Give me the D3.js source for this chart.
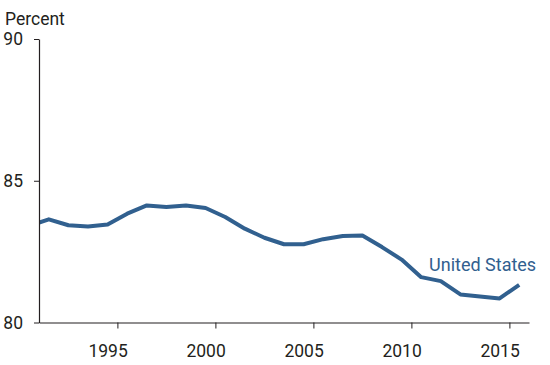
<!DOCTYPE html>
<html>
<head>
<meta charset="utf-8">
<script src="https://cdn.jsdelivr.net/npm/d3@7"></script>
<style>
  body { margin: 0; background: #fff; }
  text { font-family: Roboto, sans-serif; }
</style>
</head>
<body>
<div id="chart"></div>
<script>
// Data (annual, percent)
const years = [1991, 1992, 1993, 1994, 1995, 1996, 1997, 1998, 1999, 2000,
  2001, 2002, 2003, 2004, 2005, 2006, 2007, 2008, 2009, 2010,
  2011, 2012, 2013, 2014, 2015, 2016]
const usValues = [83.41, 83.64, 83.43, 83.39, 83.46, 83.84, 84.13, 84.07, 84.13, 84.04,
  83.72, 83.31, 82.99, 82.76, 82.76, 82.94, 83.05, 83.07, 82.66, 82.22,
  81.60, 81.46, 80.99, 80.92, 80.85, 81.33]
const xTickYears = [1995, 2000, 2005, 2010, 2015]
const yTicks = [80, 85, 90]
const seriesName = 'United States'

const margin = { top: 39, right: 21, bottom: 42.5, left: 39 }
const width = 550 - margin.left - margin.right
const height = 365 - margin.top - margin.bottom
const lineColor = '#31608f'
const textColor = '#231f20'
const fontSize = '17.5px'

const svg = d3.select('#chart')
  .append('svg')
  .attr('width', 550)
  .attr('height', 365)

const g = svg.append('g')
  .attr('transform', 'translate(' + margin.left + ',' + margin.top + ')')

const x = d3.scaleLinear()
  .domain([1991.5, 2016.5])
  .range([0, width])

const y = d3.scaleLinear()
  .domain([80, 90])
  .range([height, 0])

const half = (x(1992) - x(1991)) / 2

g.append('clipPath')
  .attr('id', 'plot-clip')
  .append('rect')
  .attr('x', 0)
  .attr('y', -10)
  .attr('width', width + 10)
  .attr('height', height + 20)

// the line
const data = years.map(function (d, i) { return { year: d, value: usValues[i] } })
g.append('path')
  .datum(data)
  .attr('clip-path', 'url(#plot-clip)')
  .attr('fill', 'none')
  .attr('stroke', lineColor)
  .attr('stroke-width', 4)
  .attr('stroke-linejoin', 'round')
  .attr('d', d3.line()
    .x(function (d) { return x(d.year) })
    .y(function (d) { return y(d.value) }))

// X axis: labels at the year, tick marks between years
const xAxis = g.append('g')
  .attr('transform', 'translate(0,' + height + ')')
  .call(d3.axisBottom(x).tickValues(xTickYears).tickFormat(d3.format('d'))
    .tickSize(6).tickSizeOuter(0).tickPadding(16))
xAxis.select('.domain').attr('stroke', textColor).attr('stroke-width', 1.2)
xAxis.selectAll('.tick line')
  .attr('stroke', textColor)
  .attr('transform', 'translate(' + half + ',0)')
xAxis.selectAll('.tick text')
  .attr('fill', textColor)
  .style('font-size', fontSize)

// Y axis
const yAxis = g.append('g')
  .call(d3.axisLeft(y).tickValues(yTicks).tickSize(5).tickSizeOuter(0).tickPadding(11))
yAxis.select('.domain').attr('stroke', textColor).attr('stroke-width', 1.2)
yAxis.selectAll('.tick line').attr('stroke', textColor)
yAxis.selectAll('.tick text')
  .attr('fill', textColor)
  .style('font-size', fontSize)

svg.append('text')
  .attr('x', 5)
  .attr('y', 25)
  .attr('fill', textColor)
  .style('font-size', fontSize)
  .text('Percent')

g.append('text')
  .attr('x', x(2011.4))
  .attr('y', y(81.83))
  .attr('fill', lineColor)
  .style('font-size', '18px')
  .text(seriesName)
</script>
</body>
</html>
